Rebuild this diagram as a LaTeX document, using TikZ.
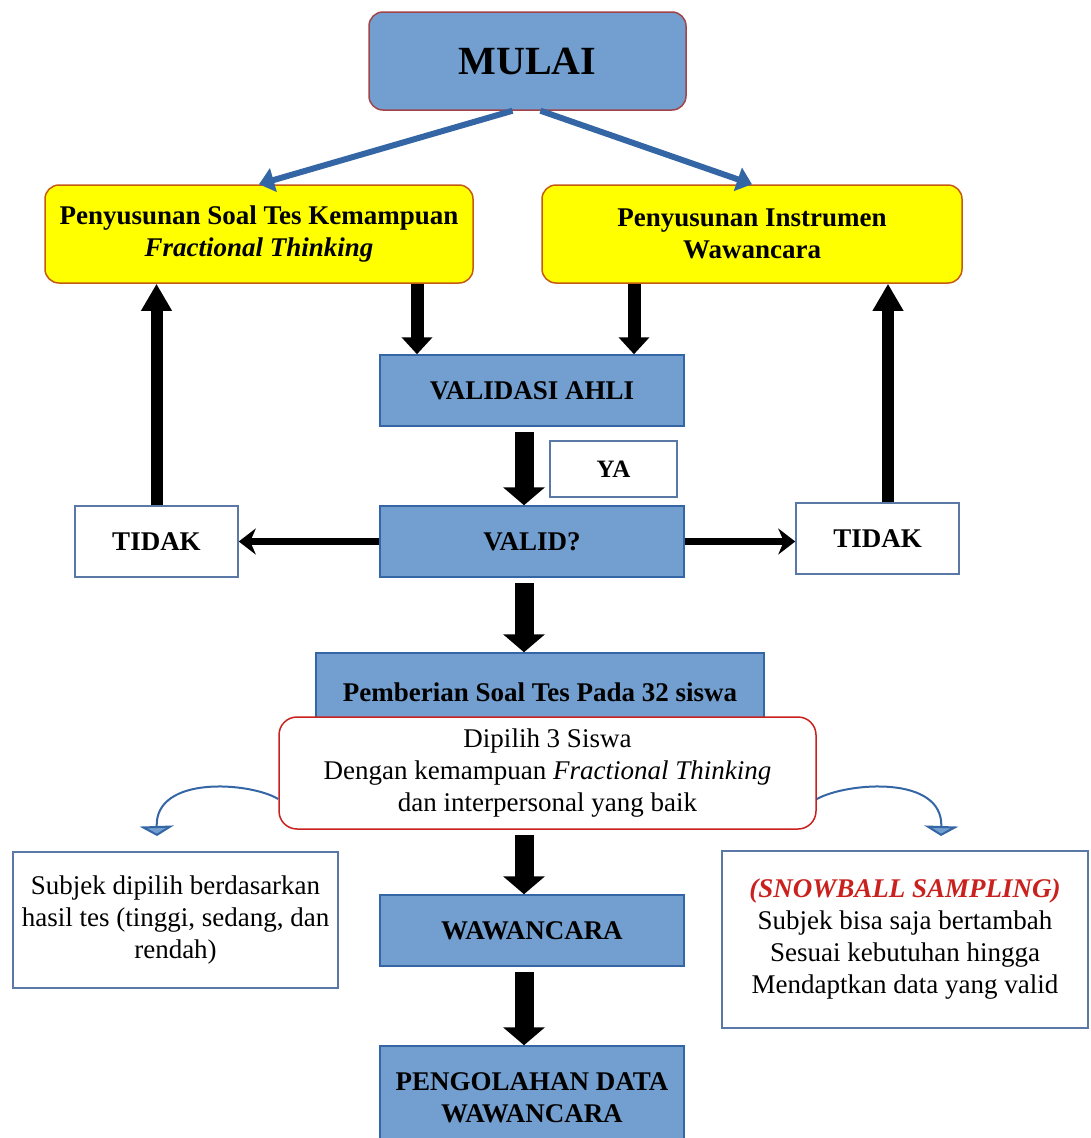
\documentclass[tikz,border=0pt]{standalone}
\usepackage{fontspec}
\setmainfont{Liberation Serif}
\usetikzlibrary{arrows.meta}
\definecolor{cblue}{HTML}{729FCF}
\definecolor{cline}{HTML}{3465A4}
\definecolor{cmaroon}{HTML}{A0444A}
\definecolor{cyellow}{HTML}{FFFF00}
\definecolor{corange}{HTML}{C55A11}
\definecolor{cred}{HTML}{C9211E}
\definecolor{cnote}{HTML}{5A78A6}
\newcommand{\txt}{\fontsize{27}{32}\selectfont}
\tikzset{
  every picture/.style={x=1pt, y=-1pt, line width=1.5pt},
  startbox/.style={draw=cmaroon, fill=cblue, rounded corners=14pt, minimum width=317pt, minimum height=98pt, font=\fontsize{40}{48}\selectfont\bfseries},
  prepbox/.style={draw=corange, fill=cyellow, rounded corners=14pt, minimum width=#1, minimum height=98pt, align=center, inner sep=4pt, font=\txt\bfseries},
  procbox/.style={draw=cline, fill=cblue, minimum width=304pt, minimum height=71pt, align=center, font=\txt\bfseries},
  plainbox/.style={draw=cnote, fill=white, minimum width=163pt, minimum height=71pt, font=\txt\bfseries},
  note/.style={draw=cnote, fill=white, align=center, inner sep=4pt, font=\txt},
  pickbox/.style={draw=cred, fill=white, rounded corners=18pt, minimum width=537pt, minimum height=112pt, align=center, font=\txt},
  flow/.style={draw=cline, line width=6pt, -{Triangle[width=24pt, length=15pt]}},
  godown/.style={line width=13pt, -{Triangle[width=30pt, length=17pt]}},
  goup/.style={line width=12pt, -{Triangle[width=29pt, length=27pt]}},
  gomain/.style={line width=19pt, shorten <=5pt, -{Triangle[width=41pt, length=18pt]}},
  goside/.style={line width=7pt, -{Stealth[width=26pt, length=17pt]}},
  turn/.style={draw=cline, line width=2pt, -{Triangle[width=34pt, length=10pt, fill=cblue]}},
}
\begin{document}
\begin{tikzpicture}
  \clip (0,0) rectangle (1090,1138);
  % top
  \node[startbox] (mulai) at (527.5,61) {MULAI};
  \node[prepbox=428pt] (soal) at (259,234) {Penyusunan Soal Tes Kemampuan\\\textit{Fractional Thinking}};
  \node[prepbox=420pt] (instr) at (752,234) {Penyusunan Instrumen\\Wawancara};
  % validation
  \node[procbox] (validasi) at (532,390.5) {VALIDASI AHLI};
  \node[plainbox, minimum width=127pt, minimum height=56pt, font=\fontsize{25}{30}\selectfont\bfseries] (ya) at (613.5,469) {YA};
  \node[procbox] (valid) at (532,541.5) {VALID?};
  \node[plainbox] (tidakL) at (156.5,541.5) {TIDAK};
  \node[plainbox] (tidakR) at (877.5,538.5) {TIDAK};
  % test and subjects
  \node[procbox, minimum width=448pt, minimum height=78pt] (beri) at (540,692) {Pemberian Soal Tes Pada 32 siswa};
  \node[pickbox] (pilih) at (547.5,773) {Dipilih 3 Siswa\\Dengan kemampuan \textit{Fractional Thinking}\\dan interpersonal yang baik};
  \node[note, minimum width=325pt, minimum height=136pt] (subjek) at (175.5,920) {Subjek dipilih berdasarkan\\hasil tes (tinggi, sedang, dan\\rendah)};
  \node[note, minimum width=366pt, minimum height=177pt] (snow) at (905,939.5) {\textcolor{cred}{\textbf{\textit{(SNOWBALL SAMPLING)}}}\\Subjek bisa saja bertambah\\Sesuai kebutuhan hingga\\Mendaptkan data yang valid};
  \node[procbox] (wawan) at (532,930.5) {WAWANCARA};
  \node[procbox, minimum height=104pt] (olah) at (532,1098) {PENGOLAHAN DATA\\WAWANCARA};
  % arrow columns
  \coordinate (xl) at (417,0);
  \coordinate (xr) at (634,0);
  \coordinate (xc) at (524,0);
  \coordinate (xu) at (888,0);
  \coordinate (cl) at (157,836);
  \coordinate (cr) at (941,836);
  \draw[flow] ([xshift=-15pt]mulai.south) -- (soal.north);
  \draw[flow] ([xshift=13pt]mulai.south) -- (instr.north);
  \draw[godown] (soal.south -| xl) -- (validasi.north -| xl);
  \draw[godown] (instr.south -| xr) -- (validasi.north -| xr);
  \draw[gomain] (validasi.south -| xc) -- (valid.north -| xc);
  \draw[goside] (valid.west) -- (tidakL.east);
  \draw[goside] (valid.east) -- (valid.east -| tidakR.west);
  \draw[goup] (tidakL.north) -- (tidakL.north |- soal.south);
  \draw[goup] (tidakR.north -| xu) -- (instr.south -| xu);
  \draw[gomain] (valid.south -| xc) -- (beri.north -| xc);
  \draw[gomain] (pilih.south -| xc) -- (wawan.north -| xc);
  \draw[gomain] (wawan.south -| xc) -- (olah.north -| xc);
  \draw[turn] ([yshift=-26pt]pilih.west) .. controls (250,782) and (155,775) .. (cl);
  \draw[turn] ([yshift=-26pt]pilih.east) .. controls (848,782) and (943,775) .. (cr);
\end{tikzpicture}
\end{document}
